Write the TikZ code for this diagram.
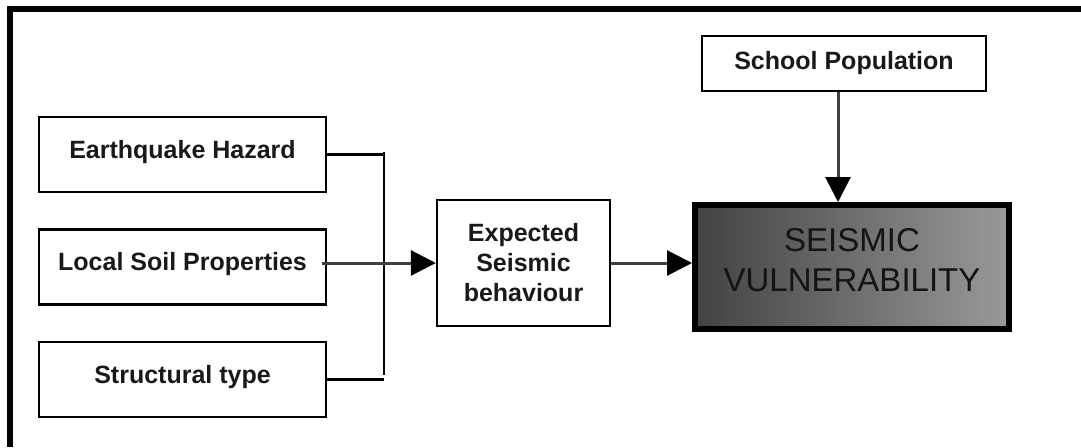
\documentclass[tikz,border=0pt]{standalone}
\usepackage{fontspec}
\setmainfont{Liberation Sans}
\usetikzlibrary{arrows.meta,positioning}
\tikzset{
  box/.style={draw, line width=1.2pt, align=center, inner sep=2pt, fill=white, text=black!90,
    font=\fontsize{12.5}{15}\selectfont\bfseries},
  factor/.style={box, minimum width=143.5pt, minimum height=37.5pt, text height=9pt, text depth=5pt},
  result/.style={draw, line width=3pt, align=center, minimum width=157pt, minimum height=62pt,
    left color=black!74, right color=black!40, text=black!92, text depth=7pt,
    font=\fontsize{16.5}{20}\selectfont},
  arr/.style={-{Triangle[length=12.5pt,width=12.5pt,color=black]}, line width=1.5pt, draw=black!75},
  bracket/.style={line width=1.2pt, draw=black}}

\begin{document}
\begin{tikzpicture}[x=0.5pt, y=-0.5pt, node distance=17.5pt]
  \useasboundingbox (0,0) rectangle (1081,447);
  % frame
  \draw[line width=3pt] (10,447) -- (10,9) -- (1081,9);
  % inputs
  \node[factor] (eq) at (182.5,154.5) {Earthquake Hazard};
  \node[factor, below=of eq] (soil) {Local Soil Properties};
  \node[factor, below=of soil] (st) {Structural type};
  \node[box, minimum width=86.5pt, minimum height=63pt] (exp) at (523.5,263) {Expected\\Seismic\\behaviour};
  \node[result] (sv) at (852,267) {SEISMIC\\VULNERABILITY};
  \node[box, minimum width=142pt, minimum height=27.5pt] (sp) at (844,63.5) {School Population};
  \coordinate (bt) at (384,152);
  \coordinate (bb) at (384,375);
  \draw[bracket] (eq.east) -- (eq.east -| bt);
  \draw[bracket] (st.east) -- (st.east -| bt);
  \draw[bracket] (bt) -- (bb);
  \draw[arr] ([xshift=-2.5pt]soil.east |- exp.west) -- (exp.west);
  \draw[arr] (exp) -- (exp -| sv.west);
  \draw[arr] ([xshift=-3pt]sp.south) -- ([xshift=-3pt]sp.south |- sv.north);
\end{tikzpicture}
\end{document}
